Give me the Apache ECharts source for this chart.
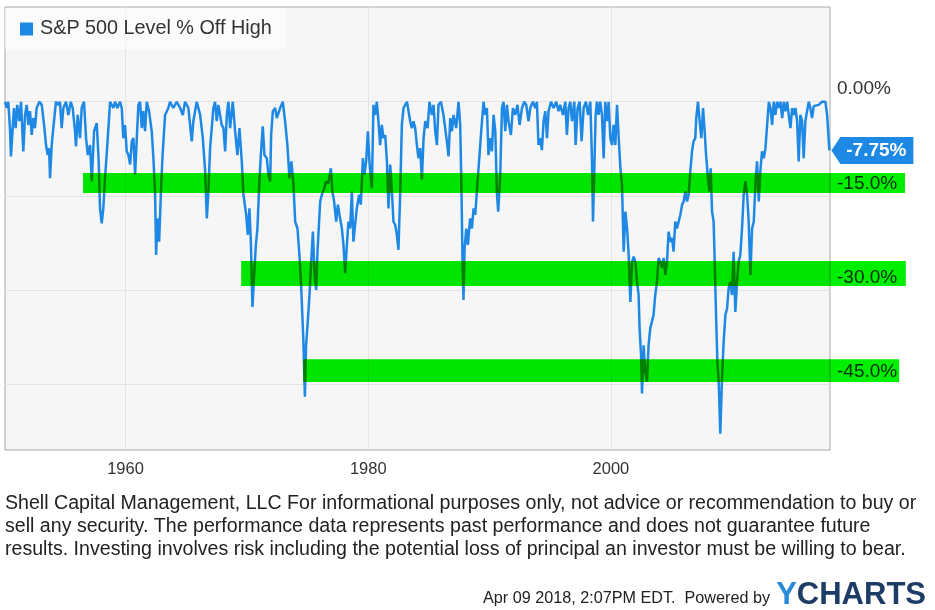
<!DOCTYPE html>
<html>
<head>
<meta charset="utf-8">
<script src="https://cdn.jsdelivr.net/npm/echarts@6/dist/echarts.min.js"></script>
<style>
html,body{margin:0;padding:0;background:#fff;}
#chart{width:935px;height:610px;}
</style>
</head>
<body>
<div id="chart"></div>
<script>
// ---- data ----
const seriesName = 'S&P 500 Level % Off High';
const years = [
1950.07,1950.21,1950.34,1950.48,1950.56,1950.67,1950.81,1950.95,1951.08,1951.25,1951.39,1951.58,1951.72,1951.86,1951.99,
1952.13,1952.27,1952.40,1952.54,1952.68,1952.90,1953.10,1953.29,1953.45,1953.59,1953.70,1953.78,1953.92,1954.05,1954.27,
1954.46,1954.60,1954.74,1954.88,1955.10,1955.29,1955.49,1955.65,1955.84,1955.92,1956.06,1956.25,1956.39,1956.58,1956.75,
1956.89,1957.08,1957.22,1957.41,1957.63,1957.79,1957.90,1958.04,1958.17,1958.31,1958.50,1958.73,1959.00,1959.14,1959.33,
1959.55,1959.69,1959.82,1959.96,1960.10,1960.24,1960.38,1960.52,1960.65,1960.79,1960.93,1961.06,1961.20,1961.34,1961.47,
1961.61,1961.75,1961.94,1962.16,1962.30,1962.44,1962.52,1962.63,1962.77,1962.91,1963.04,1963.26,1963.53,1963.67,1963.94,
1964.22,1964.50,1964.72,1964.91,1965.18,1965.46,1965.59,1965.87,1966.15,1966.37,1966.56,1966.70,1966.83,1966.97,1967.24,
1967.38,1967.52,1967.65,1967.93,1968.07,1968.21,1968.35,1968.48,1968.62,1968.84,1969.03,1969.22,1969.39,1969.58,1969.72,
1969.94,1970.08,1970.21,1970.33,1970.46,1970.60,1970.74,1970.87,1971.03,1971.17,1971.31,1971.45,1971.64,1971.78,1971.92,
1972.00,1972.14,1972.33,1972.47,1972.74,1972.96,1973.15,1973.34,1973.51,1973.67,1973.84,1973.98,1974.17,1974.33,1974.47,
1974.66,1974.78,1974.88,1975.02,1975.16,1975.30,1975.44,1975.57,1975.71,1975.82,1976.04,1976.18,1976.37,1976.53,1976.72,
1976.92,1977.05,1977.19,1977.36,1977.50,1977.63,1977.83,1977.96,1978.10,1978.24,1978.37,1978.51,1978.65,1978.78,1978.92,
1979.06,1979.25,1979.39,1979.56,1979.69,1979.83,1979.97,1980.10,1980.30,1980.43,1980.57,1980.71,1980.84,1980.98,1981.12,
1981.25,1981.40,1981.54,1981.67,1981.81,1981.95,1982.08,1982.22,1982.36,1982.49,1982.63,1982.77,1982.91,1983.05,1983.19,
1983.32,1983.46,1983.60,1983.73,1983.87,1984.01,1984.14,1984.28,1984.42,1984.56,1984.70,1984.89,1985.05,1985.25,1985.38,
1985.52,1985.66,1985.79,1985.99,1986.20,1986.34,1986.48,1986.62,1986.76,1986.90,1987.03,1987.25,1987.44,1987.58,1987.69,
1987.77,1987.85,1987.94,1988.08,1988.21,1988.40,1988.54,1988.68,1988.82,1989.01,1989.17,1989.31,1989.50,1989.64,1989.78,
1989.91,1990.05,1990.19,1990.33,1990.47,1990.61,1990.71,1990.88,1991.02,1991.15,1991.29,1991.43,1991.56,1991.76,1991.92,
1992.11,1992.30,1992.47,1992.67,1992.86,1993.02,1993.21,1993.35,1993.57,1993.76,1993.90,1994.03,1994.17,1994.31,1994.45,
1994.59,1994.73,1994.86,1995.06,1995.27,1995.49,1995.68,1995.82,1996.05,1996.24,1996.37,1996.51,1996.65,1996.79,1996.98,
1997.09,1997.25,1997.42,1997.58,1997.75,1997.94,1998.11,1998.30,1998.44,1998.52,1998.63,1998.74,1998.85,1998.98,1999.12,
1999.26,1999.40,1999.53,1999.67,1999.81,1999.95,2000.09,2000.22,2000.36,2000.50,2000.64,2000.78,2000.91,2001.05,2001.19,
2001.33,2001.46,2001.60,2001.74,2001.87,2002.01,2002.15,2002.28,2002.36,2002.48,2002.56,2002.69,2002.83,2002.97,2003.10,
2003.24,2003.38,2003.51,2003.65,2003.79,2003.93,2004.07,2004.21,2004.34,2004.48,2004.62,2004.75,2004.89,2005.03,2005.16,
2005.30,2005.44,2005.58,2005.72,2005.86,2005.99,2006.13,2006.27,2006.40,2006.54,2006.68,2006.81,2006.95,2007.03,2007.17,
2007.31,2007.45,2007.59,2007.72,2007.84,2007.97,2008.11,2008.22,2008.33,2008.46,2008.55,2008.66,2008.77,2008.88,2009.01,
2009.15,2009.29,2009.43,2009.57,2009.70,2009.84,2009.98,2010.11,2010.25,2010.39,2010.52,2010.66,2010.80,2010.94,2011.08,
2011.22,2011.35,2011.49,2011.63,2011.77,2011.91,2012.04,2012.18,2012.31,2012.45,2012.59,2012.73,2012.87,2013.01,2013.14,
2013.28,2013.41,2013.55,2013.69,2013.83,2013.97,2014.11,2014.24,2014.38,2014.52,2014.65,2014.79,2014.93,2015.06,2015.20,
2015.34,2015.47,2015.61,2015.75,2015.88,2016.02,2016.16,2016.30,2016.43,2016.57,2016.71,2016.85,2017.12,2017.40,2017.67,
2017.81,2018.00
];
const offHigh = [
0,-1.0,0,-4.2,-8.7,-5.3,-1.0,-4.2,-0.5,-3.1,0,-7.9,-2.1,-0.5,-3.7,
-1.5,-5.3,-2.6,-4.2,-1.0,0,-0.5,-3.7,-6.9,-8.5,-7.4,-12.2,-6.9,-4.2,0,
-0.5,0,-4.2,-1.0,0,-2.1,0,-1.0,-4.7,-7.1,-2.1,-5.8,-1.0,0,-5.8,
-8.5,-6.9,-12.7,-4.7,-3.4,-9.5,-17.0,-19.4,-17.0,-12.2,-6.9,0,-1.0,0,-1.0,
0,-1.0,-5.8,-3.7,-7.9,-8.5,-10.0,-6.3,-5.8,-11.6,-5.8,-0.5,0,-4.2,-1.5,
-4.7,0,-1.5,-4.7,-9.0,-14.8,-24.4,-18.6,-22.3,-14.8,-9.0,-2.1,-1.0,0,-1.0,
0,-1.0,-2.1,0,-1.0,-6.3,-3.1,0,-2.1,-5.8,-11.0,-18.6,-14.3,-7.4,-1.0,
0,-3.1,-0.5,-3.7,-4.2,-7.9,-2.1,0,-4.2,0,-4.7,-8.5,-4.2,-9.5,-14.8,
-18.0,-21.2,-17.0,-22.3,-32.7,-27.6,-22.8,-20.2,-12.7,-7.9,-3.9,-8.5,-9.0,-11.6,-12.7,
-5.3,-1.5,-1.0,-2.6,-1.0,0,-3.1,-6.9,-12.2,-9.5,-13.2,-19.1,-20.2,-24.4,-29.2,
-38.2,-47.0,-38.8,-35.0,-30.8,-25.5,-20.7,-27.1,-30.0,-23.9,-15.9,-14.8,-13.8,-12.7,-13.0,
-10.6,-14.3,-15.9,-19.1,-16.4,-18.0,-20.2,-22.8,-27.3,-22.8,-19.1,-20.2,-14.3,-22.3,-19.6,
-17.0,-14.8,-16.4,-9.0,-11.6,-9.5,-4.7,-9.5,-13.8,-0.5,-2.1,0,-3.1,-6.9,-3.7,
-5.8,-5.3,-9.5,-17.0,-10.0,-14.3,-19.1,-19.6,-21.2,-23.6,-14.8,-3.7,-1.0,-0.5,0,
-1.5,-3.1,-4.2,-3.1,-4.2,-6.9,-9.0,-7.4,-12.4,-5.8,-3.1,-4.2,0,-2.1,-0.5,
-4.7,-6.9,-0.5,0,-2.1,-4.2,-6.3,-8.7,-2.6,-4.7,-2.1,-4.2,0,-3.7,-14.8,
-25.5,-31.6,-23.3,-20.2,-22.8,-18.6,-20.2,-17.0,-18.0,-12.7,-8.5,-4.7,0,-2.1,-1.0,
-8.5,-5.8,-7.9,-2.1,-4.7,-14.8,-17.5,-11.6,-1.0,0,-4.7,-0.5,-3.1,-5.3,-1.0,
-2.1,-0.5,-3.7,-1.0,0,-0.5,-3.1,-1.0,0,-1.0,0,-6.9,-5.8,-7.7,-3.1,
-1.5,-5.8,-1.5,0,-1.0,0,-1.5,-0.5,-2.1,0,-5.3,-1.0,0,-3.1,0,
-6.9,-1.0,0,-6.3,-1.0,0,-2.1,0,-9.5,-19.1,-10.6,-2.1,0,-2.1,0,
-2.1,-9.0,0,-3.1,0,-5.8,-6.9,-3.7,-6.9,-0.5,-5.8,-10.6,-13.2,-23.9,-17.5,
-20.2,-24.4,-31.9,-25.5,-24.7,-25.5,-28.7,-30.8,-36.1,-40.4,-46.5,-38.8,-43.0,-44.6,-38.8,
-36.1,-35.0,-34.0,-30.8,-28.7,-24.9,-25.5,-26.5,-24.9,-27.6,-25.5,-20.7,-22.3,-21.7,-23.9,
-19.1,-20.2,-19.1,-18.0,-16.4,-15.9,-14.3,-15.9,-14.8,-11.1,-7.9,-6.3,-5.8,-2.6,0,
-3.1,-5.8,-1.0,-4.7,-8.5,-11.6,-14.3,-10.6,-17.5,-19.1,-25.5,-34.0,-41.4,-44.6,-52.9,
-44.1,-38.2,-34.0,-32.9,-29.7,-28.7,-30.8,-23.9,-33.5,-28.7,-25.5,-24.4,-20.2,-14.8,-12.7,
-14.8,-19.1,-27.6,-20.2,-19.1,-12.7,-9.5,-15.9,-11.1,-7.9,-9.0,-7.4,-3.7,0,-1.0,
-3.7,0,-2.1,0,-1.0,0,-2.6,0,-1.5,0,-2.1,-4.2,-1.0,-2.1,-1.0,
-3.1,-9.5,-2.1,-3.1,-9.0,-3.1,-1.5,0,-1.0,-2.6,-0.7,-1.0,-0.5,0,0,
-2.1,-7.75
];
const lastLabel = '-7.75%';
const xTickYears = [1960, 1980, 2000];
const yTickValues = [0, -15, -30, -45];
const yTickLabels = ['0.00%', '-15.0%', '-30.0%', '-45.0%'];
// highlighter bands drawn over the chart (start year, end year, top %, bottom %)
const bandStart  = [1956.50, 1969.53, 1974.64];
const bandEnd    = [2024.23, 2024.30, 2023.75];
const bandTop    = [-11.37, -25.39, -41.02];
const bandBottom = [-14.55, -29.38, -44.68];
const footnote = 'Shell Capital Management, LLC For informational purposes only, not advice or recommendation to buy or\nsell any security. The performance data represents past performance and does not guarantee future\nresults. Investing involves risk including the potential loss of principal an investor must be willing to bear.';
const stamp = 'Apr 09 2018, 2:07PM EDT.  Powered by';

// ---- chart ----
const FONT = '"Liberation Sans", Arial, sans-serif';
const lineData = years.map((y, i) => [y, offHigh[i]]);
const bandData = bandStart.map((s, i) => [s, bandEnd[i], bandTop[i], bandBottom[i]]);
const lastIdx = years.length - 1;

const chart = echarts.init(document.getElementById('chart'), null, {renderer: 'canvas'});
chart.setOption({
  backgroundColor: '#ffffff',
  animation: false,
  textStyle: {fontFamily: FONT},
  grid: {
    left: 5, right: 105, top: 7, bottom: 160,
    show: true, backgroundColor: '#f6f6f6', borderColor: '#a8a8a8', borderWidth: 1,
    containLabel: false
  },
  legend: {
    data: [seriesName],
    left: 5, top: 8,
    padding: [11, 15, 10, 15],
    backgroundColor: 'rgba(255,255,255,0.6)',
    icon: 'rect', itemWidth: 13, itemHeight: 13,
    textStyle: {fontSize: 19.8, color: '#333', fontFamily: FONT, padding: [0, 0, 0, 2]}
  },
  xAxis: {
    type: 'value', min: 1950.07, max: 2018.05,
    axisLine: {show: false},
    axisTick: {show: false, customValues: xTickYears},
    splitLine: {show: true, lineStyle: {color: '#e3e3e3', width: 1}},
    axisLabel: {customValues: xTickYears, fontSize: 16.5, color: '#333', margin: 11, fontFamily: FONT,
      formatter: v => String(Math.round(v))}
  },
  yAxis: {
    type: 'value', position: 'right', min: -55.5, max: 15.1,
    axisLine: {show: false},
    axisTick: {show: false, customValues: yTickValues},
    splitLine: {show: true, lineStyle: {color: '#e3e3e3', width: 1}},
    axisLabel: {
      customValues: yTickValues, fontSize: 19, color: '#333', margin: 7, fontFamily: FONT,
      verticalAlign: 'bottom', padding: [0, 0, 3, 0],
      formatter: v => { const k = yTickValues.indexOf(Math.round(v)); return k >= 0 ? yTickLabels[k] : ''; }
    }
  },
  series: [
    {
      name: seriesName, type: 'line', data: lineData, showSymbol: false, clip: true,
      lineStyle: {color: '#1e88e5', width: 2.5}, itemStyle: {color: '#1e88e5'},
      z: 2,
      markPoint: {
        symbol: 'path://M0,13.5 L9,0 L82,0 L82,27 L9,27 Z',
        symbolSize: [82, 27], symbolOffset: [43, 0],
        itemStyle: {color: '#1e88e5'},
        label: {show: true, position: 'inside', offset: [4, 0], color: '#fff', fontWeight: 'bold', fontSize: 19, fontFamily: FONT,
          formatter: p => p.data.label},
        data: [{coord: [years[lastIdx], offHigh[lastIdx]], label: lastLabel}],
        z: 6
      }
    },
    {
      name: 'bands', type: 'custom', data: bandData, clip: false, z: 4,
      blendMode: 'multiply', silent: true,
      encode: {x: [0, 1], y: [2, 3]},
      renderItem: (params, api) => {
        const p0 = api.coord([api.value(0), api.value(2)]);
        const p1 = api.coord([api.value(1), api.value(3)]);
        return {type: 'rect', shape: {x: p0[0], y: p0[1], width: p1[0] - p0[0], height: p1[1] - p0[1]},
          style: {fill: '#00ee00'}};
      }
    }
  ],
  graphic: [
    {type: 'text', left: 5, top: 492, style: {text: footnote, fontSize: 19.6, lineHeight: 23, fill: '#222', fontFamily: FONT}},
    {type: 'text', right: 165, top: 591, style: {text: stamp, fontSize: 16.2, fill: '#222', fontFamily: FONT}},
    {type: 'text', right: 9, top: 580, style: {text: '{y|Y}{c|CHARTS}', fontFamily: FONT,
      rich: {y: {fill: '#2a8ad6', fontSize: 31, fontWeight: 'bold', fontFamily: FONT},
             c: {fill: '#1d3d66', fontSize: 31, fontWeight: 'bold', fontFamily: FONT}}}}
  ]
});
</script>
</body>
</html>
